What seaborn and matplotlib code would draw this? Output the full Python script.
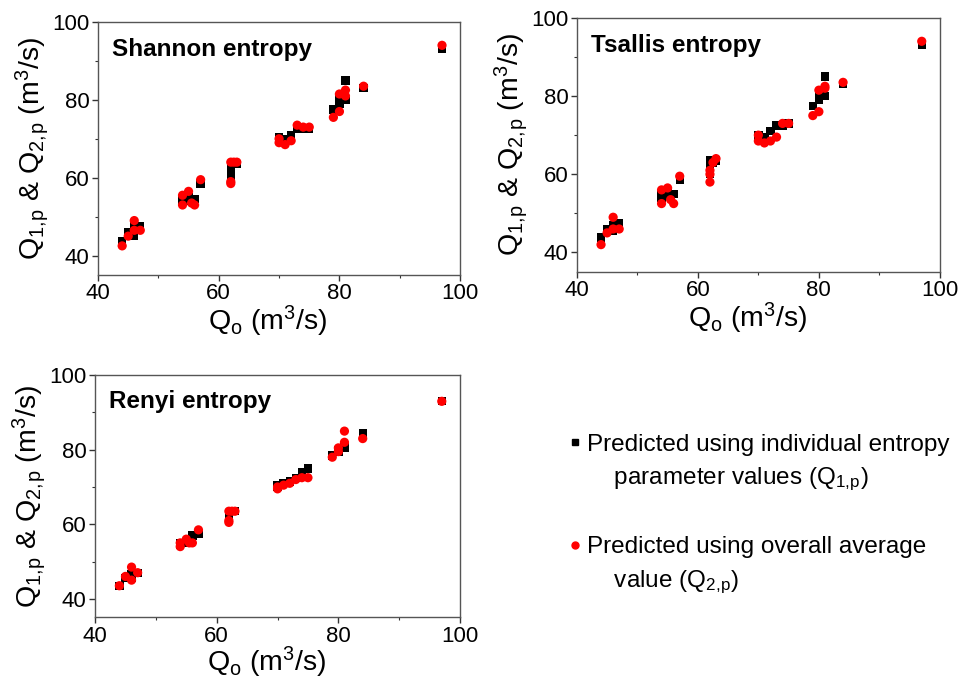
import matplotlib
matplotlib.use("Agg")
import matplotlib.pyplot as plt
import seaborn as sns
from matplotlib.ticker import MultipleLocator
from matplotlib.lines import Line2D

sns.set_theme(style="white")
plt.rcParams['font.family'] = ['Liberation Sans', 'DejaVu Sans']
plt.rcParams['mathtext.default'] = 'regular'
plt.rcParams['text.color'] = 'black'
plt.rcParams['axes.labelcolor'] = 'black'
plt.rcParams['xtick.labelcolor'] = 'black'
plt.rcParams['ytick.labelcolor'] = 'black'

# Observed discharge (shared by all panels)
q_obs = [44, 45, 46, 46, 47, 54, 54, 55, 55.5, 56, 57, 62, 62, 62, 62.5, 63,
         70, 70, 71, 72, 73, 74, 75, 79, 80, 80, 81, 81, 84, 97]

# Shannon
shannon_q1 = [43.8, 46, 45, 47.5, 47.5, 54, 54.5, 55, 54, 54.5, 58.5, 63, 61, 60, 63.5, 63.5,
              70.5, 70, 70, 71, 72.5, 72.5, 72.5, 77.5, 79, 80.5, 85, 80, 83, 93]
shannon_q2 = [42.5, 45, 49, 46.5, 46.5, 53, 55.5, 56.5, 53.5, 53, 59.5, 64, 59, 58.5, 64, 64,
              69, 70, 68.5, 69.5, 73.5, 73, 73, 75.5, 77, 81.5, 82.5, 81, 83.5, 94]

# Tsallis
tsallis_q1 = [43.8, 46, 47, 45.5, 47.5, 54, 55, 55.5, 54.5, 55, 58.5, 63.5, 62, 60, 63, 63.5,
              70, 69.5, 69.5, 71, 72.5, 72.5, 73, 77.5, 79, 80.5, 85, 80, 83, 93]
tsallis_q2 = [42, 45, 49, 46, 46, 52.5, 56, 56.5, 53.5, 52.5, 59.5, 61, 60, 58, 63, 64,
              70, 68.5, 68, 68.5, 69.5, 73, 73, 75, 76, 81.5, 82.5, 82, 83.5, 94]

# Renyi
renyi_q1 = [43.5, 45.5, 46.5, 45.5, 47, 54.5, 55, 55, 55, 57, 57.5, 63, 62, 61.5, 63.5, 63.5,
            70.5, 70, 71, 71.5, 72.5, 74, 75, 78.5, 79.5, 80, 81, 80.5, 84.5, 93]
renyi_q2 = [43.5, 46, 48.5, 45, 47, 55, 54, 56, 55, 55, 58.5, 63.5, 61, 60.5, 63.5, 63.5,
            70, 69.5, 70.5, 71, 72, 72.5, 72.5, 78, 79.5, 80.5, 85, 82, 83, 93]

titles = ["Shannon entropy", "Tsallis entropy", "Renyi entropy"]
q1_sets = [shannon_q1, tsallis_q1, renyi_q1]
q2_sets = [shannon_q2, tsallis_q2, renyi_q2]

fig = plt.figure(figsize=(9.63, 6.86), dpi=100)
positions = [
    [0.1018, 0.599, 0.376, 0.369],
    [0.599, 0.6035, 0.377, 0.3705],
    [0.0987, 0.1, 0.379, 0.353],
]

for pos, title, q1, q2 in zip(positions, titles, q1_sets, q2_sets):
    ax = fig.add_axes(pos)
    sns.scatterplot(x=q_obs, y=q1, ax=ax, marker='s', color='black', s=36,
                    edgecolor='none', zorder=3)
    sns.scatterplot(x=q_obs, y=q2, ax=ax, marker='o', color='#ff0000', s=44,
                    edgecolor='none', zorder=4)
    ax.set_xlim(40, 100)
    ax.set_ylim(35, 100)
    ax.xaxis.set_major_locator(MultipleLocator(20))
    ax.xaxis.set_minor_locator(MultipleLocator(10))
    ax.yaxis.set_major_locator(MultipleLocator(20))
    ax.yaxis.set_minor_locator(MultipleLocator(10))
    ax.tick_params(axis='both', which='major', direction='out', length=4, width=1,
                   labelsize=16, colors='#333333', labelcolor='black',
                   bottom=True, left=True, top=False, right=False, pad=2)
    ax.tick_params(axis='both', which='minor', direction='out', length=2, width=0.8,
                   colors='#333333', bottom=True, left=True, top=False, right=False)
    for sp in ax.spines.values():
        sp.set_color('#555555')
        sp.set_linewidth(1.0)
    ax.set_xlabel("Q$_o$ (m$^3$/s)", fontsize=20.5, labelpad=3)
    ax.xaxis.set_label_coords(0.47, -0.035, transform=None)
    ax.xaxis.set_label_coords(0.47, -0.113, transform=ax.transAxes)
    ax.xaxis.label.set_va('top')
    ax.set_ylabel("Q$_{1,\\!p}$ & Q$_{2,\\!p}$ (m$^3$/s)", fontsize=20.5, labelpad=1)
    ax.text(0.038, 0.89, title, transform=ax.transAxes, fontsize=17.5,
            fontweight='bold', ha='left', va='center')

handles = [
    Line2D([], [], marker='s', color='black', linestyle='none', markersize=4.5),
    Line2D([], [], linestyle='none'),
    Line2D([], [], linestyle='none'),
    Line2D([], [], marker='o', color='#ff0000', linestyle='none', markersize=5),
    Line2D([], [], linestyle='none'),
]
labels = ["Predicted using individual entropy",
          "    parameter values (Q$_{1,\\!p}$)",
          " ",
          "Predicted using overall average",
          "    value (Q$_{2,\\!p}$)"]
fig.legend(handles, labels, loc='upper left', bbox_to_anchor=(0.592, 0.368),
           frameon=False, fontsize=17.5, labelspacing=0.43, handletextpad=0.3,
           handlelength=0.4, borderaxespad=0, borderpad=0)

fig.savefig("out.png", dpi=100)
